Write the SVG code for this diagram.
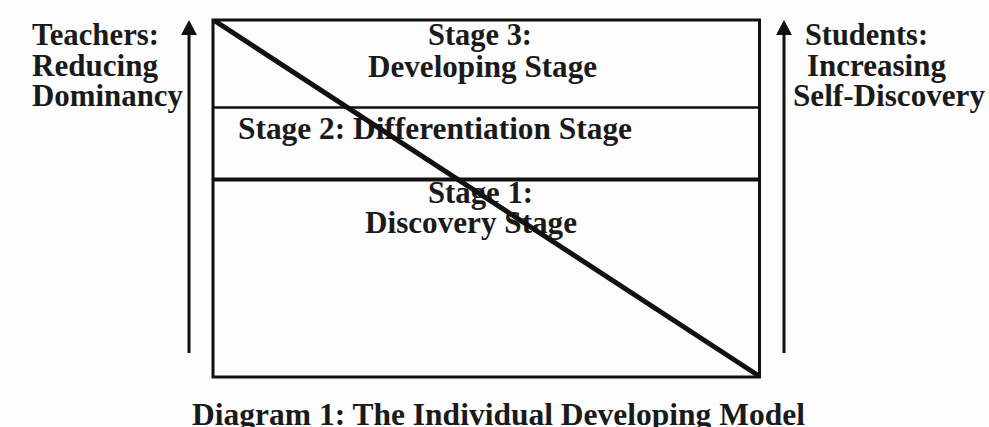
<svg xmlns="http://www.w3.org/2000/svg" width="989" height="427" viewBox="0 0 989 427">
<style>
text{font-family:"Liberation Serif","Times New Roman",serif;font-weight:bold;font-size:31px;fill:#1a1a1a}
.ln{stroke:#111;fill:none}
.ah{fill:#111}
</style>
<rect width="989" height="427" fill="#fdfdfd"/>
<g id="box">
<rect class="ln" x="213" y="20" width="546.5" height="357" stroke-width="3"/>
<line class="ln" x1="213" y1="107.5" x2="759.5" y2="107.5" stroke-width="2.5"/>
<line class="ln" x1="213" y1="179.5" x2="759.5" y2="179.5" stroke-width="4"/>
</g>
<g id="stage3"><text x="428" y="45" textLength="104" lengthAdjust="spacingAndGlyphs">Stage 3:</text><text x="368" y="77" textLength="229" lengthAdjust="spacingAndGlyphs">Developing Stage</text></g>
<g id="stage2"><text x="238" y="139" textLength="394" lengthAdjust="spacingAndGlyphs">Stage 2: Differentiation Stage</text></g>
<g id="stage1"><text x="428" y="203" textLength="105" lengthAdjust="spacingAndGlyphs">Stage 1:</text><text x="365" y="233" textLength="212" lengthAdjust="spacingAndGlyphs">Discovery Stage</text></g>
<g id="teachers"><text x="32" y="45" textLength="127" lengthAdjust="spacingAndGlyphs">Teachers:</text><text x="32" y="76" textLength="126" lengthAdjust="spacingAndGlyphs">Reducing</text><text x="32" y="106" textLength="151" lengthAdjust="spacingAndGlyphs">Dominancy</text></g>
<g id="students"><text x="805" y="45" textLength="123" lengthAdjust="spacingAndGlyphs">Students:</text><text x="807" y="76" textLength="139" lengthAdjust="spacingAndGlyphs">Increasing</text><text x="793" y="106" textLength="192" lengthAdjust="spacingAndGlyphs">Self-Discovery</text></g>
<g id="connectors">
<line class="ln" x1="215" y1="21" x2="759" y2="376" stroke-width="5"/>
<line class="ln" x1="189" y1="353" x2="189" y2="32" stroke-width="3"/>
<polygon class="ah" points="189,20 181,35 197,35"/>
<line class="ln" x1="784" y1="353" x2="784" y2="32" stroke-width="3"/>
<polygon class="ah" points="784,20 776,35 792,35"/>
</g>
<g id="title"><text x="192" y="425" textLength="613" lengthAdjust="spacingAndGlyphs">Diagram 1: The Individual Developing Model</text></g>
</svg>
